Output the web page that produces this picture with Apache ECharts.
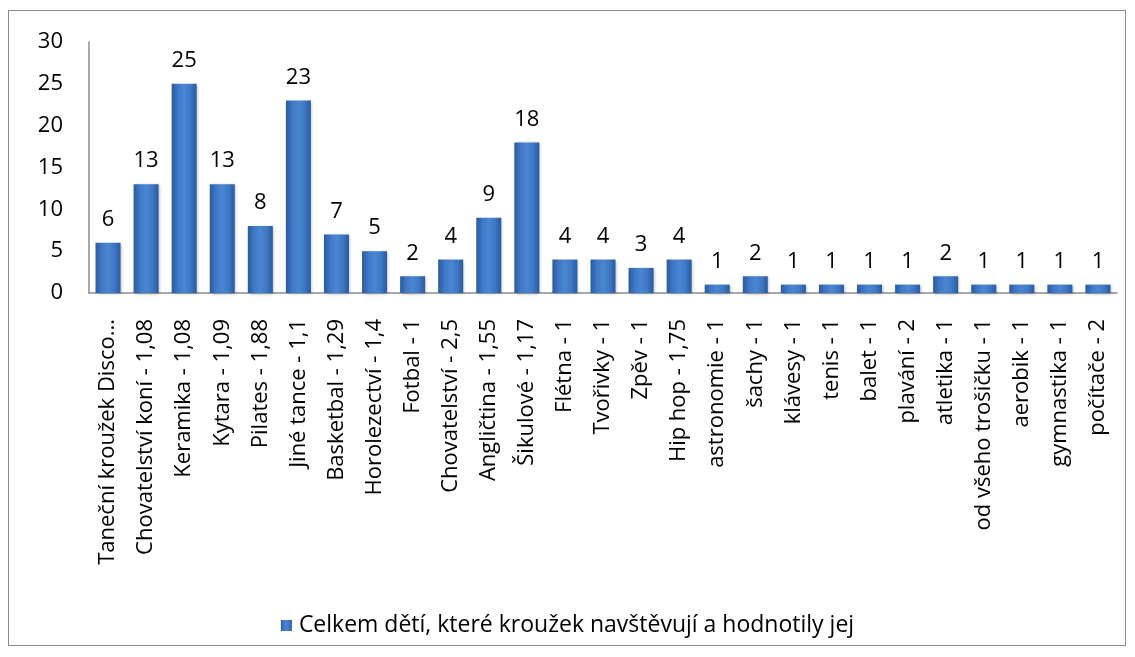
<!DOCTYPE html>
<html>
<head>
<meta charset="utf-8">
<script src="https://cdn.jsdelivr.net/npm/echarts@6/dist/echarts.min.js"></script>
<style>
html,body{margin:0;padding:0;background:#fff;}
#frame{position:absolute;left:8px;top:10px;width:1118px;height:636px;border:1px solid #8c8c8c;box-sizing:border-box;}
#chart{position:absolute;left:0;top:0;width:1135px;height:657px;}
</style>
</head>
<body>
<div id="frame"></div>
<div id="chart"></div>
<script>
const categories = [
  "Taneční kroužek Disco...", "Chovatelství koní - 1,08", "Keramika - 1,08", "Kytara - 1,09",
  "Pilates - 1,88", "Jiné tance - 1,1", "Basketbal - 1,29", "Horolezectví - 1,4",
  "Fotbal - 1", "Chovatelství - 2,5", "Angličtina - 1,55", "Šikulové - 1,17",
  "Flétna - 1", "Tvořivky - 1", "Zpěv - 1", "Hip hop - 1,75", "astronomie - 1",
  "šachy - 1", "klávesy - 1", "tenis - 1", "balet - 1", "plavání - 2", "atletika - 1",
  "od všeho trošičku - 1", "aerobik - 1", "gymnastika - 1", "počítače - 2"
];
const values = [6, 13, 25, 13, 8, 23, 7, 5, 2, 4, 9, 18, 4, 4, 3, 4, 1, 2, 1, 1, 1, 1, 2, 1, 1, 1, 1];
const seriesName = "Celkem dětí, které kroužek navštěvují a hodnotily jej";
const yTicks = [0, 5, 10, 15, 20, 25, 30];

const font = "'Open Sans', 'Noto Sans', sans-serif";
const chart = echarts.init(document.getElementById('chart'), null, {renderer: 'canvas'});
const barGrad = new echarts.graphic.LinearGradient(0, 0, 1, 0, [
  {offset: 0, color: '#2a5a9c'},
  {offset: 0.25, color: '#3f78c6'},
  {offset: 0.5, color: '#4a86d2'},
  {offset: 0.75, color: '#3f78c6'},
  {offset: 1, color: '#2a5a9c'}
]);
chart.setOption({
  animation: false,
  textStyle: {fontFamily: font},
  grid: {left: 89, right: 18, top: 42, bottom: 364, containLabel: false},
  legend: {
    top: 609, left: 'center',
    itemWidth: 11, itemHeight: 11, itemGap: 6,
    icon: 'rect',
    textStyle: {fontSize: 23, color: '#000', fontFamily: font, padding: [0, 0, 0, 2]},
    data: [seriesName]
  },
  xAxis: {
    type: 'category',
    data: categories,
    axisLine: {lineStyle: {color: '#8c8c8c', width: 1.5}},
    axisTick: {show: false},
    axisLabel: {rotate: 90, interval: 0, fontSize: 22, color: '#000', margin: 26, fontFamily: font}
  },
  yAxis: {
    type: 'value',
    min: 0, max: 30, interval: 5,
    axisLine: {show: true, lineStyle: {color: '#8c8c8c', width: 1.5}},
    axisTick: {show: false},
    splitLine: {show: false},
    axisLabel: {fontSize: 22, color: '#000', margin: 26, fontFamily: font,
      formatter: v => yTicks.includes(v) ? String(v) : ''}
  },
  series: [{
    name: seriesName,
    type: 'bar',
    data: values,
    barWidth: 25,
    itemStyle: {color: barGrad, shadowColor: 'rgba(0,0,0,0.25)', shadowBlur: 3, shadowOffsetX: 1, shadowOffsetY: 1},
    label: {show: true, position: 'top', distance: 12, fontSize: 22, color: '#000', fontFamily: font}
  }]
});
</script>
</body>
</html>
